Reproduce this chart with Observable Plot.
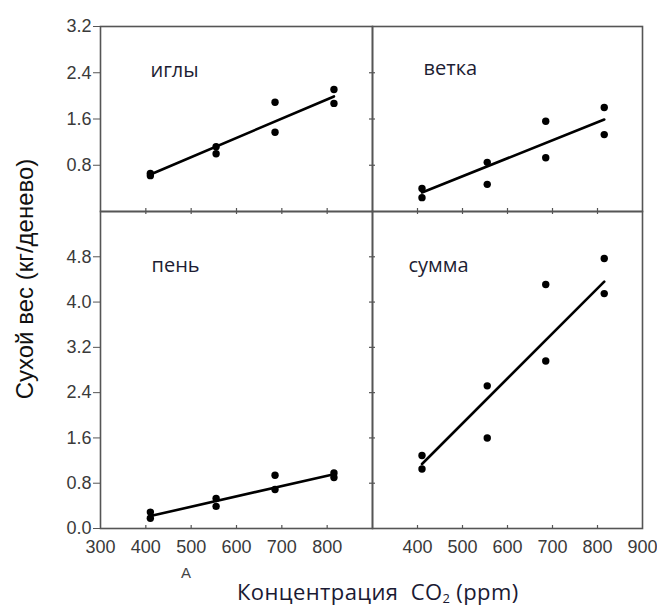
<!DOCTYPE html>
<html>
<head>
<meta charset="utf-8">
<script src="https://cdn.jsdelivr.net/npm/d3@7"></script>
<script src="https://cdn.jsdelivr.net/npm/@observablehq/plot@0.6"></script>
<style>
  html, body { margin: 0; padding: 0; background: #fff; }
  #chart { position: relative; width: 657px; height: 610px; overflow: hidden; background: #fff; }
  #chart svg { position: absolute; overflow: visible; background: transparent; }
  .ytitle { position: absolute; left: 25px; top: 279px; transform: translate(-50%, -50%) rotate(-90deg);
            white-space: nowrap; font-family: "Liberation Sans", Arial, sans-serif; font-size: 24px; color: #111; }
  .xtitle { position: absolute; left: 237px; top: 580px; white-space: nowrap;
            font-family: "Open Sans", sans-serif; font-size: 22px; letter-spacing: 0.4px; color: #1a1a33; line-height: 1; }
  .xtitle sub { font-size: 13px; vertical-align: -3px; line-height: 0; }
  .alabel { position: absolute; left: 181px; top: 565px; font-family: "Liberation Sans", Arial, sans-serif;
            font-size: 15px; color: #444; line-height: 1; }
</style>
</head>
<body>
<div id="chart"></div>
<script>
// ---- data ----
const panelNames = ["иглы", "ветка", "пень", "сумма"];
const co2 = [410, 410, 555, 555, 685, 685, 815, 815];
const needles = [0.66, 0.62, 1.12, 1.00, 1.89, 1.37, 2.11, 1.87];
const branch  = [0.40, 0.24, 0.85, 0.47, 1.56, 0.93, 1.80, 1.33];
const stump   = [0.29, 0.18, 0.53, 0.39, 0.94, 0.69, 0.98, 0.90];
const total   = [1.29, 1.05, 2.52, 1.60, 4.31, 2.96, 4.77, 4.15];
const fitX = [410, 815];
const needlesFit = [0.64, 1.99];
const branchFit  = [0.33, 1.59];
const stumpFit   = [0.22, 0.96];
const totalFit   = [1.14, 4.36];
const topYTicks = [0.8, 1.6, 2.4, 3.2];
const topMidTicks = [0.8, 1.6, 2.4];
const bottomYTicks = [0.0, 0.8, 1.6, 2.4, 3.2, 4.0, 4.8];
const bottomMidTicks = [0.8, 1.6, 2.4, 3.2, 4.0, 4.8];
const innerXTicks = [400, 500, 600, 700, 800];
const leftXLabels = [300, 400, 500, 600, 700, 800];
const rightXLabels = [400, 500, 600, 700, 800, 900];
const xDomain = [300, 900];
const topYDomain = [0, 3.2];
const bottomYDomain = [0, 5.6];

// ---- layout ----
const frameColor = "#555";
const W_L = 272, W_R = 270, H_T = 185, H_B = 317;
const X0 = 100, XM = 372, Y0 = 26, YM = 211;
const fmt = d3.format(".1f");

function panel(o) {
  const marks = [
    Plot.frame({stroke: frameColor, strokeWidth: 1.6}),
    Plot.line(fitX.map((x, i) => ({x, y: o.fit[i]})), {x: "x", y: "y", stroke: "#000", strokeWidth: 2.6}),
    Plot.dot(co2.map((x, i) => ({x, y: o.values[i]})), {x: "x", y: "y", r: 3.7, fill: "#000"}),
    Plot.text([o.name], {text: d => d, frameAnchor: "top-left", dx: o.dx, dy: o.dy, textAnchor: "start",
      lineAnchor: "middle", fontSize: 20, fontFamily: "'Open Sans', sans-serif", fill: "#1d1d33"})
  ];
  if (o.yLabels) marks.push(Plot.axisY({ticks: o.yLabels, tickSize: 7, tickPadding: 2, tickFormat: fmt, label: null,
    stroke: frameColor, fill: "#3a3a3a"}));
  if (o.midY) marks.push(Plot.ruleY(o.midY, {stroke: frameColor, strokeWidth: 1.2, insetLeft: o.w - 3, insetRight: -3}));
  if (o.midX) marks.push(Plot.ruleX(innerXTicks, {stroke: frameColor, strokeWidth: 1.2, insetTop: o.h - 3, insetBottom: -3}));
  if (o.xLabels) {
    marks.push(Plot.ruleX(innerXTicks, {stroke: frameColor, strokeWidth: 1.2, insetTop: o.h - 3}));
    marks.push(Plot.axisX({ticks: o.xLabels, tickSize: 0, tickPadding: 12, tickFormat: d => String(d), label: null, fill: "#3a3a3a"}));
  }
  const svg = Plot.plot({
    width: o.ml + o.w + o.mr,
    height: o.mt + o.h + o.mb,
    marginLeft: o.ml, marginRight: o.mr, marginTop: o.mt, marginBottom: o.mb,
    x: {domain: xDomain, axis: null},
    y: {domain: o.yDomain, axis: null},
    style: {fontFamily: "'Liberation Sans', Arial, sans-serif", fontSize: "18px", color: "#444",
            background: "transparent", overflow: "visible"},
    marks
  });
  svg.style.left = (o.left - o.ml) + "px";
  svg.style.top = (o.top - o.mt) + "px";
  return svg;
}

const chart = document.getElementById("chart");
chart.appendChild(panel({name: panelNames[0], values: needles, fit: needlesFit, yDomain: topYDomain,
  left: X0, top: Y0, w: W_L, h: H_T, ml: 60, mr: 0, mt: 12, mb: 0, dx: 50, dy: 44,
  yLabels: topYTicks, midY: topMidTicks, midX: true}));
chart.appendChild(panel({name: panelNames[1], values: branch, fit: branchFit, yDomain: topYDomain,
  left: XM, top: Y0, w: W_R, h: H_T, ml: 0, mr: 20, mt: 12, mb: 0, dx: 51, dy: 42,
  midX: true}));
chart.appendChild(panel({name: panelNames[2], values: stump, fit: stumpFit, yDomain: bottomYDomain,
  left: X0, top: YM, w: W_L, h: H_B, ml: 60, mr: 0, mt: 0, mb: 45, dx: 51, dy: 54,
  yLabels: bottomYTicks, midY: bottomMidTicks, xLabels: leftXLabels}));
chart.appendChild(panel({name: panelNames[3], values: total, fit: totalFit, yDomain: bottomYDomain,
  left: XM, top: YM, w: W_R, h: H_B, ml: 0, mr: 20, mt: 0, mb: 45, dx: 36, dy: 54,
  xLabels: rightXLabels}));

const yt = document.createElement("div");
yt.className = "ytitle";
yt.textContent = "Сухой вес (кг/денево)";
chart.appendChild(yt);

const xt = document.createElement("div");
xt.className = "xtitle";
xt.innerHTML = "Концентрация&nbsp; CO<sub>2</sub> (ppm)";
chart.appendChild(xt);

const al = document.createElement("div");
al.className = "alabel";
al.textContent = "A";
chart.appendChild(al);
</script>
</body>
</html>
